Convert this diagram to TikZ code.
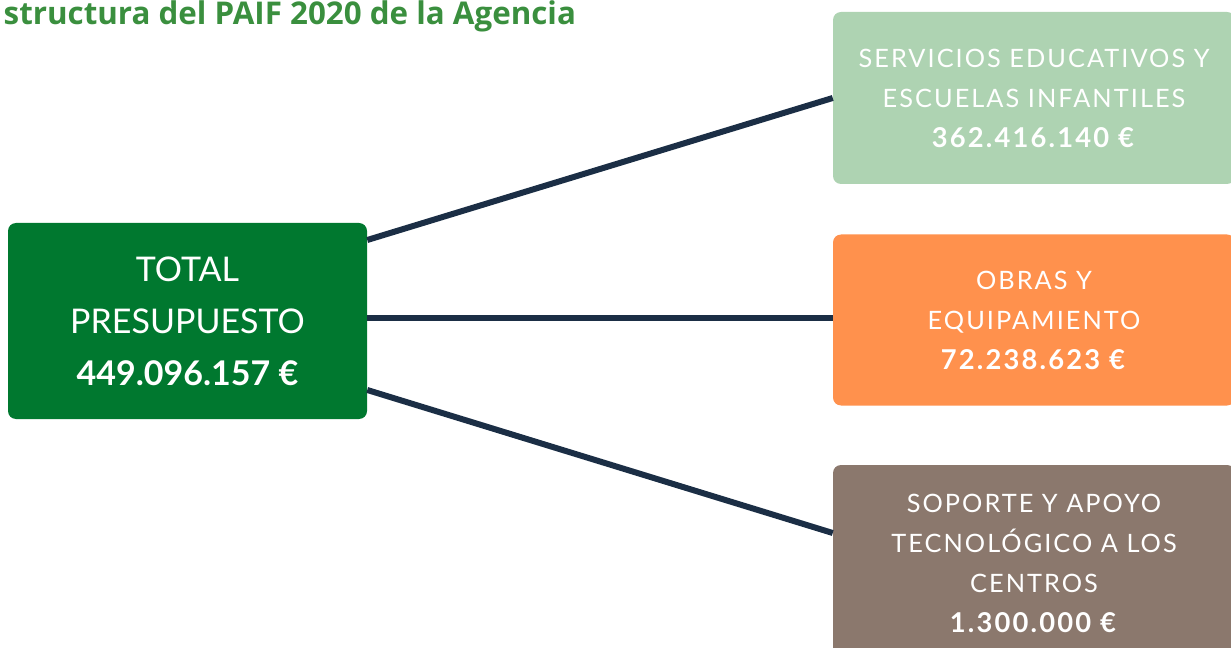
\documentclass[tikz,border=0pt]{standalone}
\usepackage{fontspec}
\setmainfont{Lato}
\newfontfamily\titlefont{Open Sans}
\newfontfamily\spaced[LetterSpace=8]{Lato}
\usetikzlibrary{positioning, calc}

\definecolor{verdeTotal}{HTML}{00782F}
\definecolor{verdeClaro}{HTML}{AED3B2}
\definecolor{naranja}{HTML}{FF914D}
\definecolor{marron}{HTML}{8B786D}
\definecolor{azulLinea}{HTML}{1B2E45}
\definecolor{verdeTitulo}{HTML}{3A8F3E}

\tikzset{
	caja/.style={rounded corners=6pt, text=white, align=center, inner sep=0pt, minimum width=301.5pt},
	partida/.style={caja, font=\spaced\fontsize{19}{30}\selectfont},
	linea/.style={draw=azulLinea, line width=4.5pt}
}

\begin{document}
\begin{tikzpicture}[x=0.75pt, y=-0.75pt]
		\useasboundingbox (0,0) rectangle (1231,648);
		\clip (0,0) rectangle (1231,648);
		\node[anchor=base west, text=verdeTitulo, font=\titlefont\bfseries\fontsize{23.5}{28}\selectfont] (titulo) at (-1,25) {structura del PAIF 2020 de la Agencia};
		\node[caja, fill=verdeTotal, minimum width=269.25pt, minimum height=147pt, font=\fontsize{25.5}{39}\selectfont] (total) at (187.5,321) {TOTAL\\PRESUPUESTO\\\textbf{449.096.157 €}};
		\node[partida, fill=verdeClaro, minimum height=129pt] (servicios) at (1034,98) {SERVICIOS EDUCATIVOS Y\\ESCUELAS INFANTILES\\\textbf{\fontsize{20.5}{30}\selectfont 362.416.140 €}};
		\node[partida, fill=naranja, minimum height=128.25pt] (obras) at (1034,320) {OBRAS Y\\EQUIPAMIENTO\\\textbf{\fontsize{20.5}{30}\selectfont 72.238.623 €}};
		\node[partida, fill=marron, minimum height=147pt] (soporte) at (1034,563) {SOPORTE Y APOYO\\TECNOLÓGICO A LOS\\CENTROS\\\textbf{\fontsize{20.5}{30}\selectfont 1.300.000 €}};
		\coordinate (salidaA) at (total.east |- 0,240);
		\coordinate (salidaB) at (total.east |- 0,318);
		\coordinate (salidaC) at (total.east |- 0,390);
		\coordinate (llegadaB) at (obras.west |- 0,318);
		\coordinate (llegadaC) at (soporte.west |- 0,533);
		\foreach \from/\to in {salidaA/servicios.west,salidaB/llegadaB,salidaC/llegadaC}
			\draw[linea] (\from) -- (\to);
	\end{tikzpicture}
\end{document}
